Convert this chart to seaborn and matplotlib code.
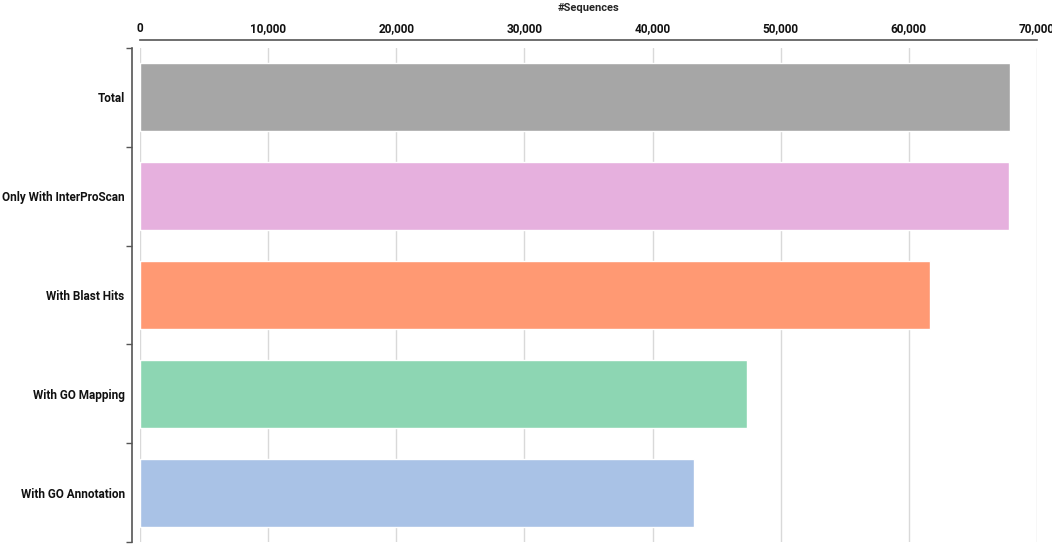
import matplotlib
matplotlib.use("Agg")
import matplotlib.pyplot as plt
import seaborn as sns
import pandas as pd
from matplotlib.ticker import FuncFormatter, FixedLocator

categories = ["Total", "Only With InterProScan", "With Blast Hits",
              "With GO Mapping", "With GO Annotation"]
values = [67900, 67850, 61650, 47400, 43200]
colors = ["#a6a6a6", "#e6b0de", "#ff9973", "#8dd6b3", "#a9c2e6"]
xticks = [0, 10000, 20000, 30000, 40000, 50000, 60000, 70000]

sns.set_style("white")
plt.rcParams['font.family'] = ['Roboto', 'DejaVu Sans']
plt.rcParams['font.weight'] = 'bold'

df = pd.DataFrame({"cat": categories, "val": values})

fig = plt.figure(figsize=(10.52, 5.47), dpi=100)
ax = fig.add_axes([140 / 1052, 5 / 547, 897 / 1052, 494 / 547])

sns.barplot(data=df, x="val", y="cat", hue="cat", palette=colors,
            legend=False, width=0.69, ax=ax, saturation=1)

ax.set_xlim(0, 70000)
ax.set_ylim(4.5, -0.5)
ax.xaxis.tick_top()
ax.xaxis.set_label_position("top")
ax.set_xticks(xticks)
ax.xaxis.set_major_formatter(FuncFormatter(lambda v, p: f"{int(v):,}"))
ax.tick_params(axis="x", length=0, pad=3, labelsize=8.5, labelcolor="#111111")
ax.set_xlabel("#Sequences", fontsize=8, fontweight="bold", labelpad=8)
ax.set_ylabel("")

ax.grid(axis="x", color="#d9d9d9", linewidth=1)
ax.set_axisbelow(True)

ax.tick_params(axis="y", which="major", length=0, pad=5, labelsize=8.5, labelcolor="#111111")
ax.yaxis.set_minor_locator(FixedLocator([-0.5, 0.5, 1.5, 2.5, 3.5, 4.5]))
ax.tick_params(axis="y", which="minor", length=4, width=1, color="#555555", left=True)

for s in ["right", "bottom"]:
    ax.spines[s].set_visible(False)
ax.spines["top"].set_position(("outward", 6))
ax.spines["top"].set_color("#555555")
ax.spines["top"].set_linewidth(1.2)
ax.spines["left"].set_position(("outward", 6))
ax.spines["left"].set_color("#555555")
ax.spines["left"].set_linewidth(1.2)

fig.savefig("out.png", dpi=100)
